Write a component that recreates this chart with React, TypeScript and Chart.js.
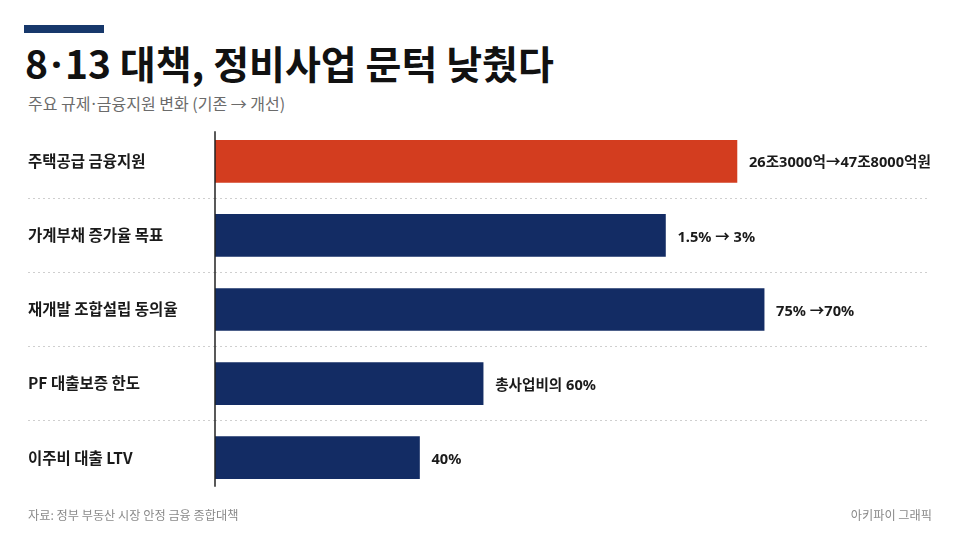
import { useEffect, useRef } from 'react';
import { Chart, registerables } from 'chart.js';
import type { Plugin } from 'chart.js';

Chart.register(...registerables);

const categories = [
  '주택공급 금융지원',
  '가계부채 증가율 목표',
  '재개발 조합설립 동의율',
  'PF 대출보증 한도',
  '이주비 대출 LTV',
];
// relative bar length (no axis shown in the original)
const barValues = [73, 63, 76.8, 37.5, 28.6];
const valueLabels = [
  '26조3000억→47조8000억원',
  '1.5% → 3%',
  '75% →70%',
  '총사업비의 60%',
  '40%',
];
const barColors = ['#d33d1f', '#132c64', '#132c64', '#132c64', '#132c64'];

const FONT = '"Noto Sans CJK KR", "Noto Sans", sans-serif';
const LABEL_FONT = '"Noto Sans", "Noto Sans CJK KR", sans-serif';

const overlayPlugin: Plugin<'bar'> = {
  id: 'overlay',
  afterDatasetsDraw(chart) {
    const { ctx, chartArea } = chart;
    const meta = chart.getDatasetMeta(0);
    ctx.save();
    // y axis line, a bit shorter than the plot area
    ctx.strokeStyle = '#222222';
    ctx.lineWidth = 1.5;
    ctx.beginPath();
    ctx.moveTo(chartArea.left, chartArea.top + 7);
    ctx.lineTo(chartArea.left, chartArea.bottom - 8);
    ctx.stroke();

    ctx.font = `bold 14.6px ${LABEL_FONT}`;
    ctx.fillStyle = '#1a1a1a';
    ctx.textAlign = 'left';
    ctx.textBaseline = 'middle';
    meta.data.forEach((bar, i) => {
      ctx.fillText(valueLabels[i], bar.x + 12, bar.y + 2);
    });
    ctx.restore();
  },
};

const hidden = (c: any) => c.type !== 'tick' || c.index === 0;

const BarChart = () => {
  const canvasRef = useRef<HTMLCanvasElement>(null);
  const chartRef = useRef<Chart | null>(null);

  useEffect(() => {
    if (!canvasRef.current) return;
    if (chartRef.current) chartRef.current.destroy();

    chartRef.current = new Chart(canvasRef.current, {
      type: 'bar',
      data: {
        labels: categories,
        datasets: [
          {
            data: barValues,
            backgroundColor: barColors,
            borderWidth: 0,
            barThickness: 42,
          },
        ],
      },
      options: {
        indexAxis: 'y',
        animation: false,
        responsive: true,
        maintainAspectRatio: false,
        layout: { padding: { left: 28, right: 30, top: 0, bottom: 0 } },
        plugins: {
          legend: { display: false },
          tooltip: { enabled: false },
        },
        scales: {
          x: {
            display: false,
            min: 0,
            max: 100,
          },
          y: {
            afterFit: (scale) => {
              scale.width = 187;
            },
            ticks: {
              crossAlign: 'far',
              color: '#1a1a1a',
              font: { family: FONT, size: 15.5, weight: 'bold' },
            },
            grid: {
              offset: true,
              drawOnChartArea: true,
              drawTicks: true,
              tickLength: 187,
              lineWidth: 1,
              color: (c) => (hidden(c) ? 'rgba(0,0,0,0)' : '#cfcfcf'),
              tickColor: (c) => (hidden(c) ? 'rgba(0,0,0,0)' : '#cfcfcf'),
              tickBorderDash: [2, 3],
            },
            border: {
              display: false,
              dash: [2, 3],
            },
          },
        },
      },
      plugins: [overlayPlugin],
    });

    return () => {
      if (chartRef.current) {
        chartRef.current.destroy();
        chartRef.current = null;
      }
    };
  }, []);

  // canvas is taller than the plot area: the category axis keeps ~11px of label padding at each end
  return (
    <div style={{ position: 'absolute', left: 0, top: 112, width: 960, height: 395 }}>
      <canvas ref={canvasRef} />
    </div>
  );
};

const Dot = ({ gap }: { gap: number }) => (
  <span style={{ fontFamily: '"Noto Sans", sans-serif', margin: `0 ${gap}px` }}>·</span>
);

export default function App() {
  useEffect(() => {
    document.body.style.margin = '0';
  }, []);

  return (
    <div
      style={{
        position: 'fixed',
        left: 0,
        top: 0,
        width: 960,
        height: 540,
        background: '#ffffff',
        fontFamily: FONT,
        overflow: 'hidden',
      }}
    >
      <div style={{ position: 'absolute', left: 24, top: 25, width: 80, height: 8, background: '#17386b' }} />
      <div
        style={{
          position: 'absolute',
          left: 25,
          top: 36,
          fontSize: 39,
          fontWeight: 'bold',
          color: '#111111',
          lineHeight: '52px',
          whiteSpace: 'nowrap',
        }}
      >
        8<Dot gap={3} />13 대책, 정비사업 문턱 낮췄다
      </div>
      <div
        style={{
          position: 'absolute',
          left: 28,
          top: 92,
          fontSize: 16,
          color: '#6b6b6b',
          lineHeight: '22px',
          whiteSpace: 'nowrap',
        }}
      >
        주요 규제<Dot gap={1} />금융지원 변화 (기존 → 개선)
      </div>
      <BarChart />
      <div
        style={{
          position: 'absolute',
          left: 28,
          top: 505,
          fontSize: 12.2,
          color: '#8a8a8a',
          lineHeight: '20px',
          whiteSpace: 'nowrap',
        }}
      >
        자료: 정부 부동산 시장 안정 금융 종합대책
      </div>
      <div
        style={{
          position: 'absolute',
          right: 28,
          top: 505,
          fontSize: 12.2,
          color: '#8a8a8a',
          lineHeight: '20px',
          whiteSpace: 'nowrap',
        }}
      >
        아키파이 그래픽
      </div>
    </div>
  );
}
